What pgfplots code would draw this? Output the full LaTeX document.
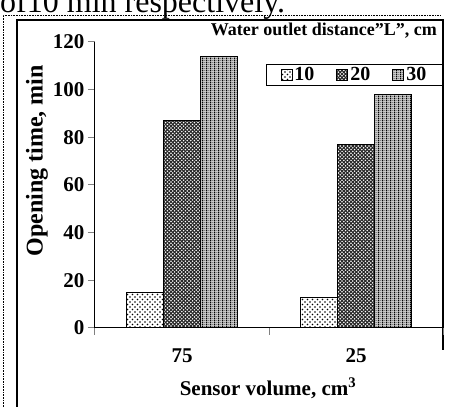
\documentclass[border=0pt]{standalone}
\usepackage{fontspec}
\setmainfont{Liberation Serif}
\usepackage{pgfplots}
\pgfplotsset{compat=1.18}
\usetikzlibrary{patterns}

\pgfdeclarepatternformonly{sparsedots}{\pgfqpoint{-1pt}{-1pt}}{\pgfqpoint{4pt}{4pt}}{\pgfqpoint{5pt}{5pt}}{%
  \pgfpathcircle{\pgfqpoint{0pt}{0pt}}{0.9pt}%
  \pgfpathcircle{\pgfqpoint{2.5pt}{2.5pt}}{0.9pt}%
  \pgfusepath{fill}}
\pgfdeclarepatternformonly{densedots}{\pgfqpoint{-1pt}{-1pt}}{\pgfqpoint{3pt}{3pt}}{\pgfqpoint{3.6pt}{3.6pt}}{%
  \pgfpathcircle{\pgfqpoint{0pt}{0pt}}{0.85pt}%
  \pgfpathcircle{\pgfqpoint{1.8pt}{1.8pt}}{0.85pt}%
  \pgfusepath{fill}}
\pgfdeclarepatternformonly{vstripes}{\pgfqpoint{0pt}{0pt}}{\pgfqpoint{3.6pt}{2pt}}{\pgfqpoint{3.6pt}{2pt}}{%
  \pgfpathrectangle{\pgfqpoint{0pt}{0pt}}{\pgfqpoint{1.3pt}{2pt}}%
  \pgfpathrectangle{\pgfqpoint{2pt}{0pt}}{\pgfqpoint{1.6pt}{0.6pt}}%
  \pgfusepath{fill}}

\newcommand{\chf}{\fontsize{18}{20}\selectfont\bfseries}
\newcommand{\tkf}{\fontsize{21}{23}\selectfont\bfseries}

\begin{document}
\begin{tikzpicture}[x=1pt,y=1pt]
\useasboundingbox (0,0) rectangle (450,407);
\clip (0,0) rectangle (450,407);
% text of the page above the figure, cut by the scan
\node[anchor=base west, inner sep=0, font=\fontsize{32}{34}\selectfont] at (0,394) {of10 min respectively.};
% frames
\draw[densely dotted, line width=0.6pt] (3,0) -- (3,392) -- (440,392);
\draw[line width=1.1pt] (17,0) -- (17,387) -- (443,387) -- (443,57);

\begin{axis}[
  at={(95pt,79pt)}, anchor=south west,
  scale only axis, width=348pt, height=286pt,
  xmin=0, xmax=4, ymin=0, ymax=120,
  axis lines*=left,
  axis line style={line width=1pt},
  ybar=0pt, bar width=37pt,
  xtick={1,3}, xticklabels={75,25},
  minor xtick={0,2,4},
  ytick={0,20,...,120},
  tick align=outside,
  major tick length=7pt, minor tick length=7pt,
  major x tick style={draw=none},
  minor x tick style={line width=1pt},
  major y tick style={line width=1pt},
  /pgf/number format/assume math mode=true,
  tick label style={font=\tkf},
  xticklabel style={yshift=-10pt},
  legend image code/.code={\draw[#1, line width=1pt] (0pt,-5.5pt) rectangle (11pt,5.5pt);},
  legend style={at={(1,0.923)}, anchor=north east, draw=black, line width=1pt,
    legend columns=3, font=\fontsize{20}{21}\selectfont\bfseries, inner xsep=14pt, inner ysep=1pt,
    /tikz/every even column/.append style={column sep=20pt}},
]
\addplot[draw=black, line width=1pt, fill=white, postaction={pattern=sparsedots}]
  coordinates {(1,15) (3,13)};
\addplot[draw=black, line width=1pt, fill=black!85, postaction={pattern=densedots, pattern color=white}]
  coordinates {(1,87) (3,77)};
\addplot[draw=black, line width=1pt, fill=black!20, postaction={pattern=vstripes}]
  coordinates {(1,114) (3,98)};
\legend{10,20,30}
\end{axis}

\node[rotate=90, font=\fontsize{24}{26}\selectfont\bfseries] at (37,246) {Opening time, min};
\node[font=\fontsize{21}{23}\selectfont\bfseries] at (268,19) {Sensor volume, cm\textsuperscript{3}};
\node[anchor=east, font=\chf, inner sep=0] at (437,376) {Water outlet distance"L", cm};
\end{tikzpicture}
\end{document}
